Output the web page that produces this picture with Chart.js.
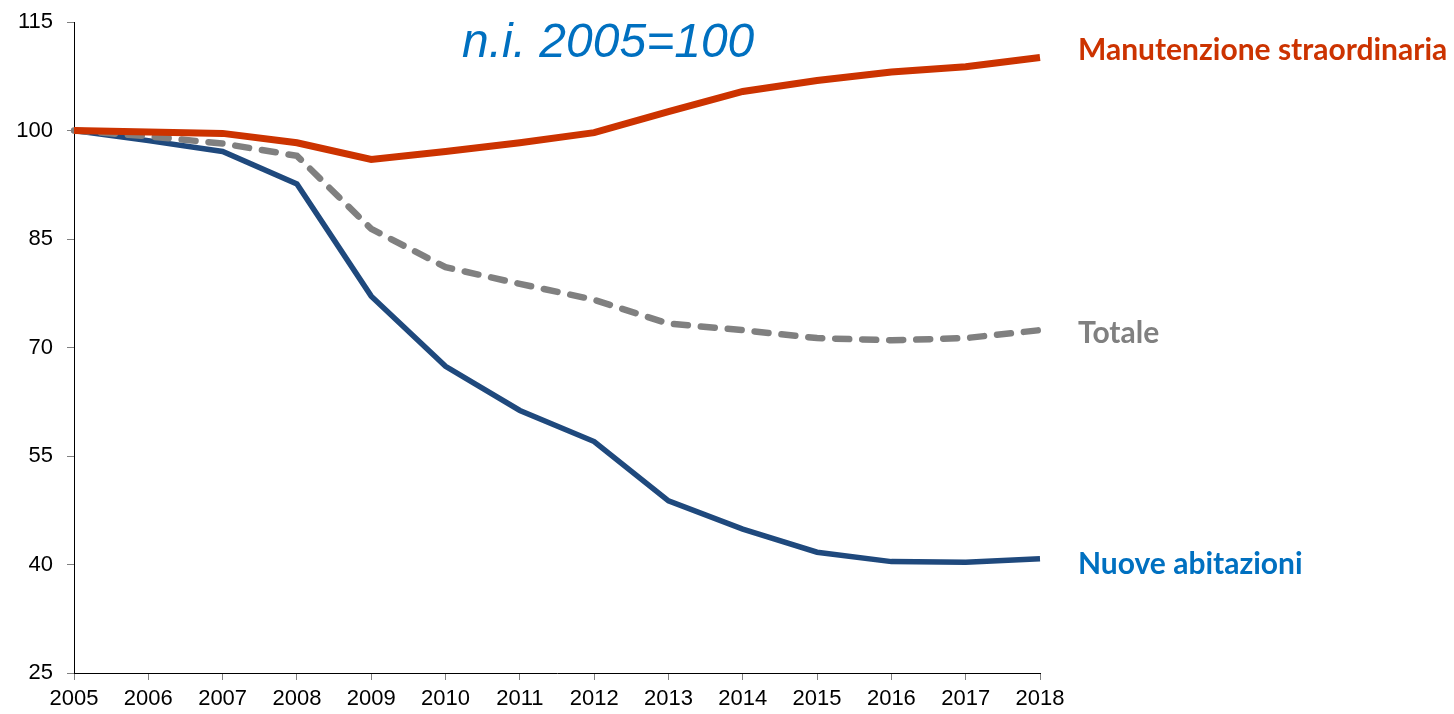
<!DOCTYPE html>
<html>
<head>
<meta charset="utf-8">
<script src="https://cdn.jsdelivr.net/npm/chart.js@4/dist/chart.umd.min.js"></script>
<style>
  body { margin: 0; background: #fff; }
  #chart { display: block; }
</style>
</head>
<body>
<canvas id="chart" width="1454" height="714"></canvas>
<script>
// anni
const years = ['2005', '2006', '2007', '2008', '2009', '2010', '2011', '2012', '2013', '2014', '2015', '2016', '2017', '2018'];

// numeri indice 2005=100
const manutenzione = [100, 99.8, 99.6, 98.3, 96.0, 97.1, 98.3, 99.7, 102.6, 105.4, 106.9, 108.1, 108.8, 110.1];
const totale = [100, 99.2, 98.2, 96.5, 86.4, 81.1, 78.8, 76.6, 73.3, 72.4, 71.3, 71.0, 71.3, 72.4];
const nuove = [100, 98.6, 97.1, 92.6, 77.1, 67.4, 61.3, 57.0, 48.8, 44.9, 41.7, 40.4, 40.3, 40.8];

const yTicks = [25, 40, 55, 70, 85, 100, 115];

const seriesLabels = ['Manutenzione straordinaria', 'Totale', 'Nuove abitazioni'];
const labelColors = ['#CC3300', '#808080', '#0070C0'];
const titleText = 'n.i. 2005=100';

// etichette a destra + titolo
const labelsPlugin = {
  id: 'serieLabels',
  afterDatasetsDraw(chart) {
    const ctx = chart.ctx;
    const area = chart.chartArea;
    const yScale = chart.scales.y;
    const offsets = [3, 13, 15]; // spostamento verticale della baseline
    ctx.save();
    ctx.font = 'bold 30px Lato, "Open Sans", sans-serif';
    ctx.textAlign = 'left';
    ctx.textBaseline = 'alphabetic';
    chart.data.datasets.forEach((ds, i) => {
      const last = ds.data[ds.data.length - 1];
      ctx.fillStyle = labelColors[i];
      ctx.fillText(seriesLabels[i], area.right + 38, yScale.getPixelForValue(last) + offsets[i]);
    });
    // titolo
    ctx.font = 'italic 48px "Liberation Sans", Arial, sans-serif';
    ctx.fillStyle = '#0070C0';
    ctx.fillText(titleText, 462, 57);
    ctx.restore();
  }
};

const ctx = document.getElementById('chart').getContext('2d');
new Chart(ctx, {
  type: 'line',
  data: {
    labels: years,
    datasets: [
      {
        label: seriesLabels[0],
        data: manutenzione,
        borderColor: '#CC3300',
        borderWidth: 7,
        pointRadius: 0,
        tension: 0,
        order: 1,
      },
      {
        label: seriesLabels[1],
        data: totale,
        borderColor: '#808080',
        borderWidth: 6.5,
        borderDash: [14, 13],
        borderCapStyle: 'round',
        pointRadius: 0,
        tension: 0,
        order: 2,
      },
      {
        label: seriesLabels[2],
        data: nuove,
        borderColor: '#1F497D',
        borderWidth: 5.5,
        pointRadius: 0,
        tension: 0,
        order: 3,
      },
    ],
  },
  options: {
    responsive: false,
    animation: false,
    layout: {
      padding: { top: 22, right: 414, bottom: 0, left: 0 }
    },
    plugins: {
      legend: { display: false },
      tooltip: { enabled: false },
      title: { display: false },
    },
    scales: {
      x: {
        offset: false,
        grid: {
          drawOnChartArea: false,
          drawTicks: true,
          tickLength: 7,
          color: '#808080',
        },
        border: { display: true, color: '#000', width: 1 },
        ticks: {
          color: '#000',
          font: { family: '"Liberation Sans", Arial, sans-serif', size: 22 },
          maxRotation: 0,
          autoSkip: false,
          padding: 6,
        },
        afterFit(scale) { scale.height = 41; },
      },
      y: {
        min: 25,
        max: 115,
        afterBuildTicks(scale) {
          scale.ticks = yTicks.map(v => ({ value: v }));
        },
        grid: {
          drawOnChartArea: false,
          drawTicks: true,
          tickLength: 7,
          color: '#808080',
        },
        border: { display: true, color: '#000', width: 1 },
        ticks: {
          color: '#000',
          font: { family: '"Liberation Sans", Arial, sans-serif', size: 22 },
          padding: 14,
        },
        afterFit(scale) {
          scale.width = 74;
          scale.paddingTop = 0;
          scale.paddingBottom = 0;
        },
      },
    },
  },
  plugins: [labelsPlugin],
});
</script>
</body>
</html>
